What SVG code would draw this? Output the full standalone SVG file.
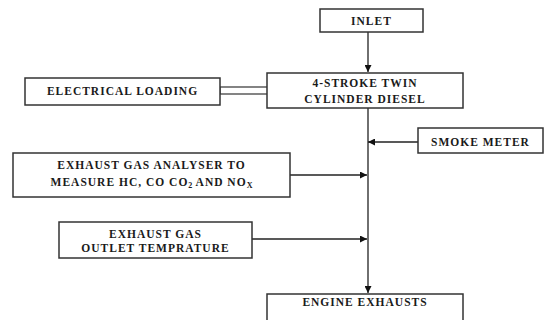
<svg xmlns="http://www.w3.org/2000/svg" width="548" height="320" viewBox="0 0 548 320" font-family="'Liberation Serif', 'Times New Roman', 'DejaVu Serif', serif">
<defs>
<marker id="ah" viewBox="0 0 10 10" refX="10" refY="5" markerWidth="7" markerHeight="7" markerUnits="userSpaceOnUse" orient="auto">
<path d="M0,0 L10,5 L0,10 Z" fill="#111"/>
</marker>
<style>
.box{fill:#fff;stroke:#333;stroke-width:1.5}
.ln{fill:none;stroke:#222;stroke-width:1.3}
.t{font-family:'Liberation Serif','Times New Roman','DejaVu Serif',serif;font-weight:bold;font-size:11.5px;letter-spacing:1px;fill:#1a1a1a;text-anchor:middle}
.sub{font-size:8px;letter-spacing:0}
</style>
</defs>
<rect width="548" height="320" fill="#fff"/>
<g id="connectors">
<line class="ln" x1="368" y1="32" x2="368" y2="72" marker-end="url(#ah)"/>
<rect x="220" y="87" width="48" height="7" fill="#fff" stroke="#333" stroke-width="1.2"/>
<line class="ln" x1="368" y1="108" x2="368" y2="293" marker-end="url(#ah)"/>
<line class="ln" x1="418" y1="142" x2="368" y2="142" marker-end="url(#ah)"/>
<line class="ln" x1="290" y1="175" x2="367" y2="175" marker-end="url(#ah)"/>
<line class="ln" x1="252" y1="239" x2="367" y2="239" marker-end="url(#ah)"/>
</g>
<g id="inlet">
<rect class="box" x="320" y="9" width="103" height="23"/>
<text class="t" x="371.5" y="25">INLET</text>
</g>
<g id="engine">
<rect class="box" x="267" y="73" width="196" height="35"/>
<text class="t" x="365" y="87">4-STROKE TWIN</text>
<text class="t" x="365" y="103">CYLINDER DIESEL</text>
</g>
<g id="electrical-loading">
<rect class="box" x="25" y="78" width="195" height="27"/>
<text class="t" x="122.5" y="95">ELECTRICAL LOADING</text>
</g>
<g id="smoke-meter">
<rect class="box" x="418" y="128" width="125" height="25"/>
<text class="t" x="480.5" y="146">SMOKE METER</text>
</g>
<g id="gas-analyser">
<rect class="box" x="13" y="153" width="277" height="44"/>
<text class="t" x="151.5" y="169">EXHAUST GAS ANALYSER TO</text>
<text class="t" x="151.5" y="186">MEASURE HC, CO CO<tspan class="sub" dy="2">2</tspan><tspan dy="-2"> AND NO</tspan><tspan class="sub" dy="2">X</tspan></text>
</g>
<g id="outlet-temp">
<rect class="box" x="59" y="222" width="193" height="36"/>
<text class="t" x="155.5" y="238">EXHAUST GAS</text>
<text class="t" x="155.5" y="252">OUTLET TEMPRATURE</text>
</g>
<g id="engine-exhausts">
<rect class="box" x="267" y="294" width="196" height="40"/>
<text class="t" x="365" y="306">ENGINE EXHAUSTS</text>
</g>
</svg>
